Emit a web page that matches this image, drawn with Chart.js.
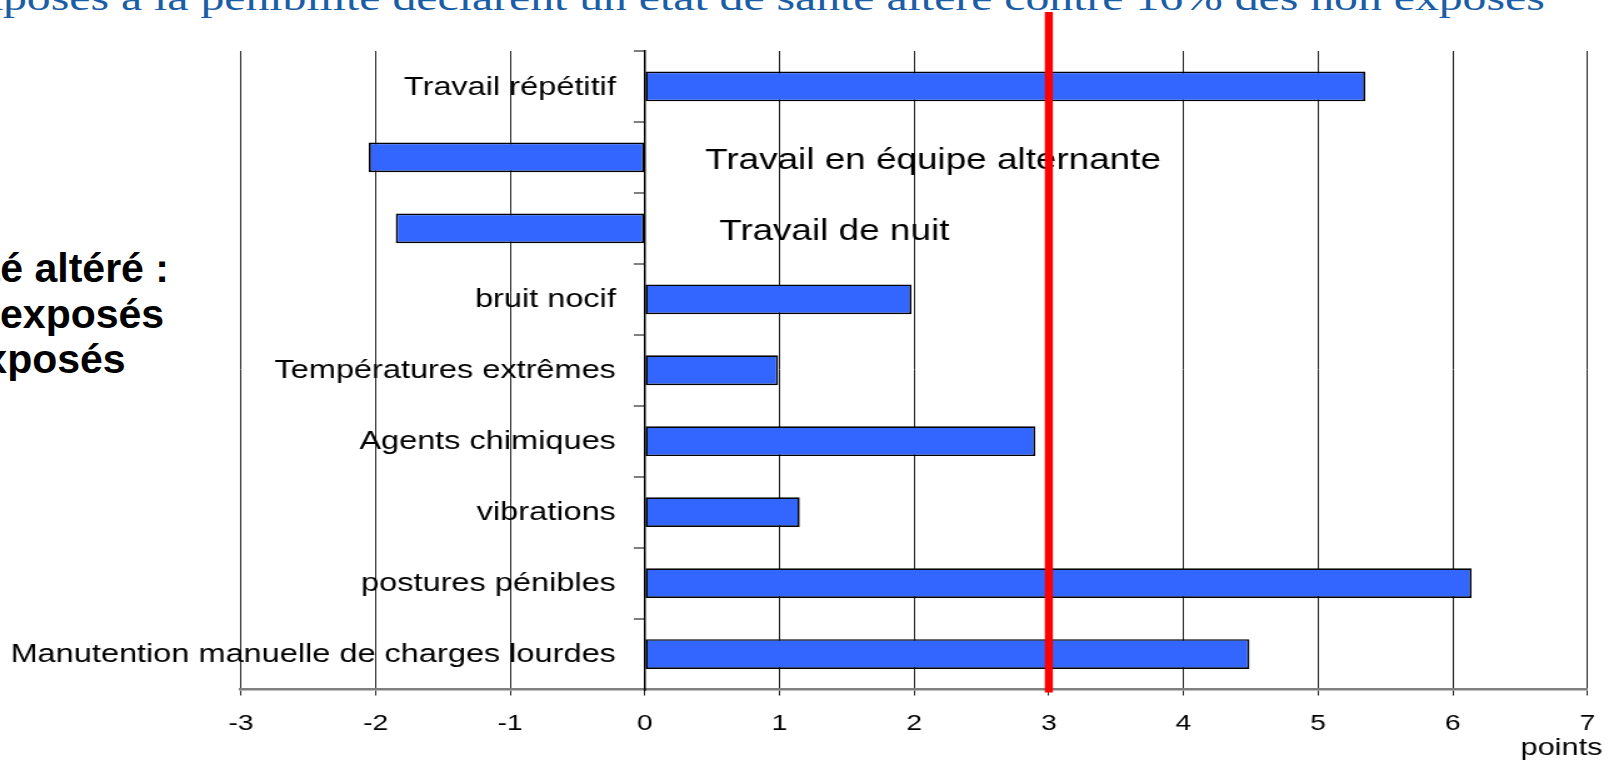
<!DOCTYPE html>
<html lang="fr">
<head>
<meta charset="utf-8">
<script src="https://cdn.jsdelivr.net/npm/chart.js@4.4.1/dist/chart.umd.min.js"></script>
<style>
  html, body { margin: 0; padding: 0; background: #fff; width: 1614px; height: 760px; overflow: hidden; }
  #title {
    position: absolute; left: -42px; top: -20px;
    font-family: 'Liberation Serif', 'Times New Roman', serif;
    font-size: 36px; line-height: 36px; color: #1b5ea6; white-space: nowrap;
    transform: scaleX(1.325); transform-origin: left top;
  }
  .note {
    position: absolute; font-family: 'Liberation Sans', Arial, sans-serif;
    font-weight: bold; font-size: 41px; line-height: 46px; color: #000; white-space: nowrap;
  }
  /* the chart in the reference is stretched sideways, so is this one */
  #stage {
    position: absolute; left: 0; top: 0; width: 1291px; height: 760px;
    transform: scaleX(1.2502); transform-origin: left top;
  }
</style>
</head>
<body>
<div id="title">exposés à la pénibilité déclarent un état de santé altéré contre 16% des non exposés</div>
<div class="note" style="left:-84px; top:245px;">santé altéré :</div>
<div class="note" style="left:-82px; top:291px;">des exposés</div>
<div class="note" style="left:-125px; top:336px;">non exposés</div>
<div id="stage"><canvas id="chart"></canvas></div>

<script>
/* ─────────────────────────────────────────────
   Data
───────────────────────────────────────────── */
const CATEGORIES = [
    'Travail répétitif',
    'Travail en équipe alternante',
    'Travail de nuit',
    'bruit nocif',
    'Températures extrêmes',
    'Agents chimiques',
    'vibrations',
    'postures pénibles',
    'Manutention manuelle de charges lourdes'
];
const ECARTS = [5.35, -2.05, -1.85, 1.98, 0.99, 2.9, 1.15, 6.14, 4.49];
const X_TICKS = [-3, -2, -1, 0, 1, 2, 3, 4, 5, 6, 7];
const SEUIL = 3;
const UNITE = 'points';

/* ─────────────────────────────────────────────
   Plugins
───────────────────────────────────────────── */
const FONT = "'Liberation Sans', Arial, sans-serif";

// category names next to the zero line: left of it for positive bars,
// right of it (and larger) for the negative ones
const catLabels = {
    id: 'catLabels',
    afterDatasetsDraw(chart, args, opts) {
        const { ctx, scales: { x, y } } = chart;
        const zero = x.getPixelForValue(0);
        let k = 0;
        ctx.save();
        ctx.fillStyle = '#000';
        ctx.textBaseline = 'middle';
        ECARTS.forEach((v, i) => {
            const py = y.getPixelForValue(i);
            if (v >= 0) {
                ctx.font = `${opts.size}px ${FONT}`;
                ctx.textAlign = 'right';
                ctx.fillText(CATEGORIES[i], zero - opts.gap, py + 1);
            } else {
                ctx.font = `${opts.sideSize}px ${FONT}`;
                ctx.textAlign = 'left';
                ctx.fillText(CATEGORIES[i], zero + opts.offsets[k++], py + 3);
            }
        });
        ctx.restore();
    }
};

const seuilLine = {
    id: 'seuilLine',
    afterDraw(chart, args, opts) {
        const { ctx, chartArea, scales: { x } } = chart;
        const px = x.getPixelForValue(SEUIL);
        ctx.save();
        ctx.strokeStyle = opts.color;
        ctx.lineWidth = opts.width;
        ctx.beginPath();
        ctx.moveTo(px, opts.top);
        ctx.lineTo(px, chartArea.bottom + 3);
        ctx.stroke();
        ctx.restore();
    }
};

const unitLabel = {
    id: 'unitLabel',
    afterDraw(chart) {
        const { ctx, chartArea } = chart;
        ctx.save();
        ctx.font = `24.5px ${FONT}`;
        ctx.fillStyle = '#000';
        ctx.textAlign = 'right';
        ctx.textBaseline = 'middle';
        ctx.fillText(UNITE, chartArea.right + 12, 748);
        ctx.restore();
    }
};

/* ─────────────────────────────────────────────
   Chart
───────────────────────────────────────────── */
new Chart(document.getElementById('chart'), {
    type: 'bar',
    data: {
        labels: CATEGORIES,
        datasets: [{
            data: ECARTS,
            backgroundColor: '#3366ff',
            borderColor: '#000',
            borderWidth: 1.7,
            borderSkipped: false,
            barPercentage: 0.42,
            categoryPercentage: 1
        }]
    },
    options: {
        indexAxis: 'y',
        responsive: true,
        maintainAspectRatio: false,
        animation: false,
        layout: { padding: { left: 192.7, right: 18.1, top: 51, bottom: 0 } },
        plugins: {
            legend: { display: false },
            tooltip: { enabled: false },
            catLabels: { size: 26, gap: 23.2, sideSize: 29.5, offsets: [48.2, 59.4] },
            seuilLine: { color: '#ff0000', width: 6.4, top: 12 }
        },
        scales: {
            x: {
                type: 'linear',
                min: X_TICKS[0],
                max: X_TICKS[X_TICKS.length - 1],
                afterBuildTicks: s => { s.ticks = X_TICKS.map(v => ({ value: v })); },
                afterFit: s => { s.height = 70.5; },
                ticks: {
                    color: '#000',
                    padding: 15,
                    font: { family: FONT, size: 22.5 },
                    callback: v => String(v)
                },
                grid: { color: '#222', lineWidth: 1, tickLength: 6, tickColor: '#222' },
                border: { color: '#808080', width: 2.5 }
            },
            y: {
                type: 'category',
                position: { x: 0 },
                ticks: { display: false },
                grid: { drawOnChartArea: false, drawTicks: true, tickLength: 8, color: '#808080', lineWidth: 2 },
                border: { display: true, color: '#000', width: 1.5 }
            }
        }
    },
    plugins: [catLabels, seuilLine, unitLabel]
});
</script>
</body>
</html>
